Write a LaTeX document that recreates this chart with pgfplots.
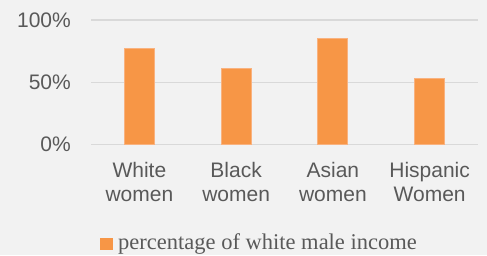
\documentclass[border=0pt]{standalone}
\usepackage{fontspec}
\setmainfont{Liberation Sans}
\newfontfamily\legfont{Liberation Serif}
\usepackage{pgfplots}
\pgfplotsset{compat=1.18}
\definecolor{bg}{HTML}{F2F2F2}
\definecolor{barc}{HTML}{F79646}
\definecolor{baredge}{HTML}{F9B27F}
\definecolor{gridc}{HTML}{D9D9D9}
\definecolor{txt}{HTML}{595959}
\begin{document}
\begin{tikzpicture}[x=1pt,y=1pt]
\fill[bg] (0,0) rectangle (487,255);
\useasboundingbox (0,0) rectangle (487,255);
\begin{axis}[
  at={(91pt,110.5pt)}, anchor=south west,
  scale only axis, width=387pt, height=124.5pt,
  xmin=-0.5, xmax=3.5, ymin=0, ymax=100,
  axis line style={draw=none},
  tick style={draw=none}, major tick length=0pt,
  ytick={0,50,100}, yticklabels={0\%,50\%,100\%},
  ymajorgrids, grid style={gridc, line width=1.2pt},
  xtick={0,1,2,3},
  xticklabels={White\\women, Black\\women, Asian\\women, Hispanic\\Women},
  xticklabel style={align=center, font=\fontsize{21}{23.7}\selectfont, text=txt, inner sep=0pt, yshift=-17.5pt},
  yticklabel style={font=\fontsize{21}{23.7}\selectfont, text=txt, inner sep=0pt, anchor=east, xshift=-20pt},
  ybar, bar width=30pt,
  legend style={at={(0.024,-0.785)}, anchor=west, draw=none, fill=none, inner sep=0pt,
    font=\legfont\fontsize{22.5}{26}\selectfont, text=txt,
    nodes={inner sep=0pt}, column sep=5pt},
  legend image code/.code={\fill[barc] (0pt,-7.5pt) rectangle (11.7pt,4.2pt);},
  clip=false,
]
\addplot[fill=barc, draw=baredge, line width=1pt] coordinates {(0,77) (1,61) (2,85) (3,53)};
\addlegendentry{percentage of white male income}
\end{axis}
\end{tikzpicture}
\end{document}
